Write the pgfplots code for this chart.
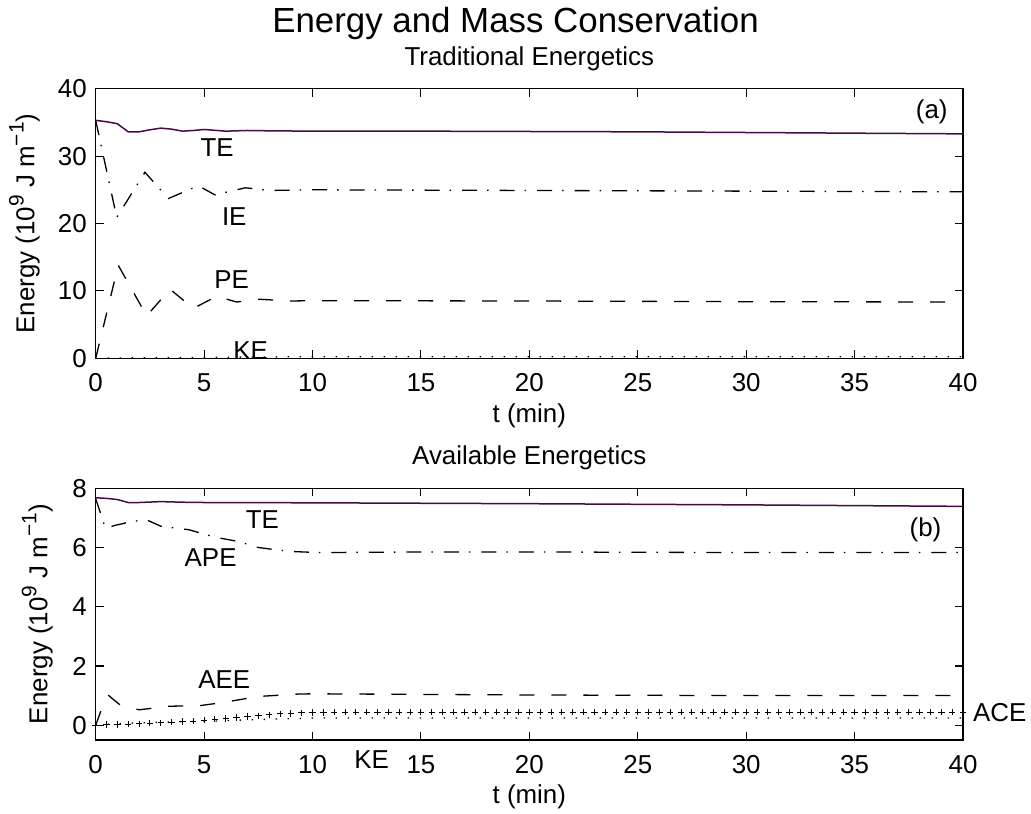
\documentclass[border=0pt]{standalone}
\usepackage{fontspec}
\setmainfont{Liberation Sans}
\usepackage{pgfplots}
\pgfplotsset{compat=1.18}
\definecolor{tecol}{RGB}{70,10,70}
\newcommand{\fs}{\fontsize{26}{31}\selectfont}
\newcommand{\sups}[1]{\raisebox{0.42em}{\fontsize{21}{25}\selectfont #1}}
\pgfplotsset{
  myaxis/.style={
    scale only axis, width=867.3bp, anchor=south west,
    xmin=0, xmax=40, xtick={0,5,...,40},
    tick align=inside, major tick length=8bp,
    axis line style={line width=1.3bp},
    tick style={line width=1.1bp, black},
    tick label style={font=\fs},
    /pgf/number format/assume math mode=true,
    xticklabel style={inner sep=0pt, anchor=north, yshift=-15bp},
    yticklabel style={inner sep=0pt, anchor=east, xshift=-8.7bp},
    label style={font=\fs},
    xlabel={t (min)},
    xlabel style={at={(axis description cs:0.5,0)}, anchor=north, inner sep=0pt, yshift=-45bp},
    ylabel={Energy (10\sups{9} J m\sups{−1})},
    clip=false,
  },
  te/.style={color=tecol, line width=1.5bp},
  dd/.style={black, line width=1.3bp, dash pattern=on 15bp off 10bp on 1.5bp off 11bp},
  da/.style={black, line width=1.3bp, dash pattern=on 15bp off 17bp},
  dt/.style={black, line width=1.3bp, dash pattern=on 1.5bp off 10.5bp},
}
\begin{document}
\begin{tikzpicture}
\useasboundingbox (0,0) rectangle (1031bp,814bp);
\node[font=\fontsize{35}{40}\selectfont, anchor=base] at (515.5bp,781bp) {Energy and Mass Conservation};
\node[font=\fs, anchor=base] at (529.3bp,748.3bp) {Traditional Energetics};
\node[font=\fs, anchor=base] at (529.3bp,349bp) {Available Energetics};

\begin{axis}[myaxis, at={(95.7bp,455.7bp)}, height=269.6bp,
  ymin=0, ymax=40, ytick={0,10,...,40},
  ylabel style={at={(axis description cs:-0.0642,0.5)}, anchor=south, inner sep=0pt}]
\addplot[dt] coordinates {(0,0)(1,0.05)(2,0.08)(3,0.1)(5,0.13)(7,0.18)(9,0.22)(10,0.24)(40,0.24)};
\addplot[da] coordinates {(0,0)(1.04,13.8)(2.35,6.3)(3.43,10.25)(4.5,7.4)(5.58,9.2)(6.5,8.35)(7.49,8.77)(9,8.5)(10,8.55)(20,8.5)(30,8.4)(40,8.35)};
\addplot[dd] coordinates {(0,35.3)(0.97,20.9)(2.27,27.6)(3.35,23.7)(4.73,25.6)(5.5,24.25)(6.9,25.3)(8,24.9)(10,25.0)(15,24.95)(20,24.9)(30,24.8)(40,24.7)};
\addplot[te] coordinates {(0,35.3)(0.5,35.1)(1,34.8)(1.5,33.6)(2,33.6)(2.5,33.9)(3,34.15)(3.5,34.0)(4,33.7)(4.5,33.8)(5,33.95)(6,33.7)(7,33.8)(8,33.75)(10,33.7)(15,33.7)(20,33.65)(25,33.6)(30,33.5)(35,33.4)(40,33.3)};
\node[font=\fs] at (axis cs:5.6,31.3) {TE};
\node[font=\fs] at (axis cs:6.39,21.0) {IE};
\node[font=\fs] at (axis cs:6.27,11.7) {PE};
\node[font=\fs] at (axis cs:7.15,1.1) {KE};
\node[font=\fs] at (axis cs:38.56,36.6) {(a)};
\end{axis}

\begin{axis}[myaxis, at={(95.7bp,74bp)}, height=251.7bp,
  ymin=-0.5, ymax=8, ytick={0,2,...,8},
  ylabel style={at={(axis description cs:-0.0493,0.5)}, anchor=south, inner sep=0pt}]
\addplot[dt] coordinates {(0,0)(1,0.05)(2,0.08)(3,0.1)(5,0.13)(7,0.18)(9,0.22)(10,0.24)(40,0.24)};
\addplot[black, only marks, mark=+, mark size=3.2bp, mark options={line width=1bp}] coordinates {
(0,0)(0.5,0.02)(1,0.03)(1.5,0.04)(2,0.05)(2.5,0.07)(3,0.08)(3.5,0.1)(4,0.12)(4.5,0.14)
(5,0.17)(5.5,0.2)(6,0.23)(6.5,0.26)(7,0.29)(7.5,0.32)(8,0.35)(8.5,0.38)(9,0.4)(9.5,0.42)
(10,0.43)(10.5,0.43)(11,0.44)(11.5,0.44)(12,0.44)(12.5,0.44)(13,0.44)(13.5,0.44)(14,0.44)(14.5,0.44)
(15,0.44)(15.5,0.44)(16,0.44)(16.5,0.44)(17,0.44)(17.5,0.44)(18,0.44)(18.5,0.44)(19,0.44)(19.5,0.44)
(20,0.44)(20.5,0.44)(21,0.44)(21.5,0.44)(22,0.44)(22.5,0.44)(23,0.44)(23.5,0.44)(24,0.44)(24.5,0.44)
(25,0.44)(25.5,0.44)(26,0.44)(26.5,0.44)(27,0.44)(27.5,0.44)(28,0.44)(28.5,0.44)(29,0.44)(29.5,0.44)
(30,0.44)(30.5,0.44)(31,0.44)(31.5,0.44)(32,0.44)(32.5,0.44)(33,0.44)(33.5,0.44)(34,0.44)(34.5,0.44)
(35,0.44)(35.5,0.44)(36,0.44)(36.5,0.44)(37,0.44)(37.5,0.44)(38,0.44)(38.5,0.44)(39,0.44)(39.5,0.44)(40,0.44)};
\addplot[da] coordinates {(0,0)(0.3,0.6)(0.6,1.0)(1.1,0.7)(2,0.52)(3.4,0.64)(4.8,0.66)(5.9,0.77)(7.5,0.97)(9.3,1.05)(10,1.06)(20,1.02)(30,1.0)(40,1.0)};
\addplot[dd] coordinates {(0,7.65)(0.45,6.65)(0.9,6.75)(1.5,6.85)(2.3,6.95)(3.0,6.72)(4.3,6.6)(5.5,6.35)(6.6,6.2)(7.5,6.0)(8.9,5.87)(10.25,5.83)(15,5.85)(20,5.85)(30,5.83)(40,5.83)};
\addplot[te] coordinates {(0,7.68)(0.5,7.66)(1,7.62)(1.5,7.52)(2,7.52)(3,7.55)(4,7.53)(5,7.52)(10,7.51)(20,7.48)(30,7.44)(40,7.39)};
\node[font=\fs] at (axis cs:7.69,6.95) {TE};
\node[font=\fs] at (axis cs:5.3,5.66) {APE};
\node[font=\fs] at (axis cs:5.93,1.54) {AEE};
\node[font=\fs] at (axis cs:12.73,-1.17) {KE};
\node[font=\fs] at (axis cs:41.69,0.43) {ACE};
\node[font=\fs] at (axis cs:38.27,6.61) {(b)};
\end{axis}
\end{tikzpicture}
\end{document}
